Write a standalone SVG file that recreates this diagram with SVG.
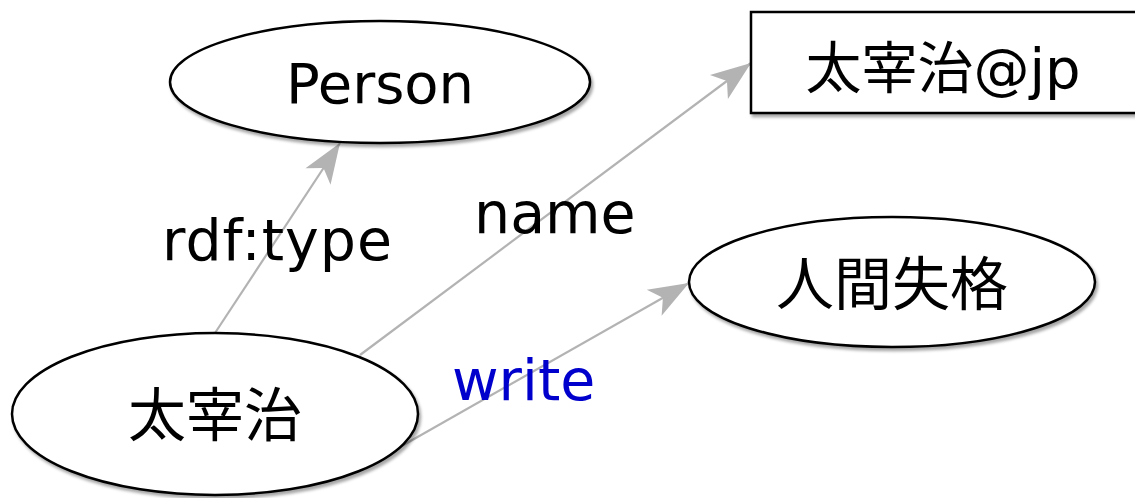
<svg xmlns="http://www.w3.org/2000/svg" width="1135" height="498" viewBox="0 0 1135 498">
<style>
.node{fill:#fff;stroke:#000;stroke-width:2.5;filter:url(#sh)}
.edge{stroke:#b3b3b3;stroke-width:2.2;fill:none;marker-end:url(#arr)}
.t{font-family:"DejaVu Sans","Noto Sans CJK JP",sans-serif;font-size:56px;fill:#000;text-anchor:middle}
.cjk{font-size:58px}
.lbl{font-family:"DejaVu Sans","Noto Sans CJK JP",sans-serif;font-size:57px;fill:#000}
.blue{fill:#0000cc}
</style>
<defs>
<filter id="sh" x="-10%" y="-10%" width="125%" height="130%">
<feDropShadow dx="2" dy="3" stdDeviation="1.5" flood-color="#000" flood-opacity="0.35"/>
</filter>
<marker id="arr" markerUnits="userSpaceOnUse" markerWidth="44" markerHeight="34" viewBox="-42 -17 44 34" refX="0" refY="0" orient="auto">
<path d="M0,0 L-40,-15 L-30,0 L-40,15 Z" fill="#b3b3b3"/>
</marker>
</defs>
<g id="connectors">
<line class="edge" x1="215" y1="333" x2="340" y2="143"/>
<line class="edge" x1="360" y1="355" x2="751" y2="63"/>
<line class="edge" x1="400" y1="447" x2="689" y2="283"/>
</g>
<g id="node-person">
<ellipse class="node" cx="380" cy="82" rx="210" ry="61"/>
<text class="t" x="380" y="103">Person</text>
</g>
<g id="node-literal">
<rect class="node" x="751" y="12" width="400" height="101"/>
<text class="t" x="943" y="88">太宰治@jp</text>
</g>
<g id="node-dazai">
<ellipse class="node" cx="215" cy="414" rx="203" ry="81"/>
<text class="t cjk" x="215" y="436">太宰治</text>
</g>
<g id="node-ningen">
<ellipse class="node" cx="892" cy="282" rx="203" ry="65"/>
<text class="t cjk" x="892" y="305">人間失格</text>
</g>
<g id="labels">
<text class="lbl" x="162" y="260" textLength="230" lengthAdjust="spacing">rdf:type</text>
<text class="lbl" x="474" y="233">name</text>
<text class="lbl blue" x="452" y="400">write</text>
</g>
</svg>
